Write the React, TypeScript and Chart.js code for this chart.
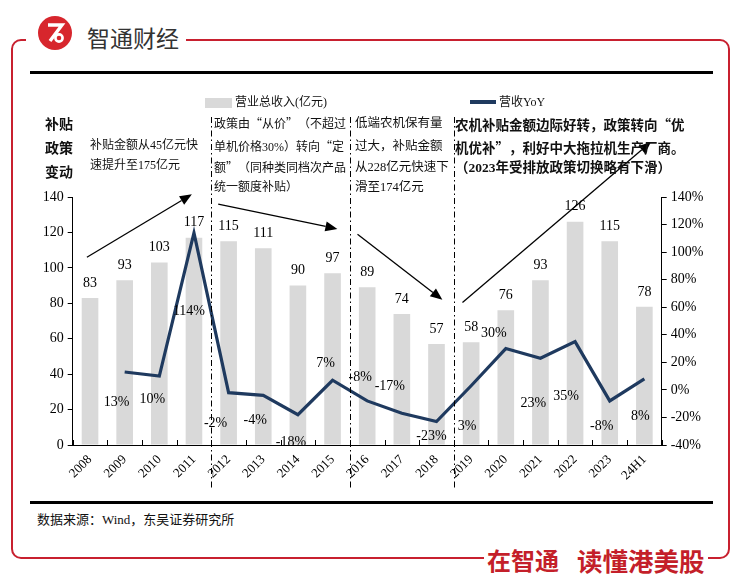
import React, { useEffect, useRef } from 'react';
import { Chart, registerables } from 'chart.js';

Chart.register(...registerables);

// ---------- data ----------
const categories = ['2008', '2009', '2010', '2011', '2012', '2013', '2014', '2015', '2016', '2017', '2018', '2019', '2020', '2021', '2022', '2023', '24H1'];
const revenue = [83, 93, 103, 117, 115, 111, 90, 97, 89, 74, 57, 58, 76, 93, 126, 115, 78];
const yoyGrowth = [null, 13, 10, 114, -2, -4, -18, 7, -8, -17, -23, 3, 30, 23, 35, -8, 8];
const leftTickMin = 0;
const leftTickMax = 140;
const rightTickMin = -40;
const rightTickMax = 140;
const tickStep = 20;

// ---------- annotation placement (styles / positions) ----------
const yoyLabelOffsets = [[0, 0], [-8, 30], [-7, 23], [-5, 79], [-13, 31], [-8, 25], [-7, 28], [-7, -17], [-7, -24], [-12, -27], [-5, 15], [-4, 41], [-12, -15], [-7, 45], [-9, 55], [-8, 25], [-4, 37]];
const phaseDividers = [3.5, 7.5, 10.5];
const trendArrows = [
  { from: [-0.09, 106], to: [2.94, 141.5] },
  { from: [3.7, 136], to: [7.14, 122] },
  { from: [7.72, 119], to: [10.17, 82] },
  { from: [10.75, 80.5], to: [16.19, 171] },
];

const SERIF = "'Liberation Serif', 'Times New Roman', serif";
const MIXED = "'Liberation Serif', 'Noto Sans CJK SC', serif";
const CJK = "'Noto Sans CJK SC', sans-serif";
const BAR_COLOR = '#d9d9d9';
const LINE_COLOR = '#1f3a5f';
const RED = '#c8202f';

const overlayPlugin = {
  id: 'overlay',
  afterDatasetsDraw(chart: any) {
    const ctx = chart.ctx;
    ctx.save();
    ctx.fillStyle = '#000';
    ctx.font = `14px ${SERIF}`;
    ctx.textAlign = 'center';
    ctx.textBaseline = 'middle';
    const barMeta = chart.getDatasetMeta(1);
    barMeta.data.forEach((el: any, i: number) => {
      ctx.fillText(String(revenue[i]), el.x, el.y - 15);
    });
    const lineMeta = chart.getDatasetMeta(0);
    lineMeta.data.forEach((el: any, i: number) => {
      const v = yoyGrowth[i];
      if (v === null || v === undefined) return;
      const [dx, dy] = yoyLabelOffsets[i];
      ctx.fillText(`${v}%`, el.x + dx, el.y + dy);
    });
    ctx.restore();
  },
  afterDraw(chart: any) {
    const ctx = chart.ctx;
    const xs = chart.scales.x;
    const ys = chart.scales.y;
    const area = chart.chartArea;
    ctx.save();
    ctx.strokeStyle = '#000';
    ctx.lineWidth = 1;
    for (let i = 0; i <= categories.length; i++) {
      const px = Math.round(xs.getPixelForValue(i - 0.5)) + 0.5;
      ctx.beginPath();
      ctx.moveTo(px, area.bottom);
      ctx.lineTo(px, area.bottom - 5);
      ctx.stroke();
    }
    ctx.setLineDash([6, 3, 1.5, 3]);
    phaseDividers.forEach((d) => {
      const px = Math.round(xs.getPixelForValue(d)) + 0.5;
      ctx.beginPath();
      ctx.moveTo(px, 117);
      ctx.lineTo(px, 488);
      ctx.stroke();
    });
    ctx.setLineDash([]);
    ctx.lineWidth = 1.3;
    ctx.fillStyle = '#000';
    trendArrows.forEach((a) => {
      const x1 = xs.getPixelForValue(a.from[0]);
      const y1 = ys.getPixelForValue(a.from[1]);
      const x2 = xs.getPixelForValue(a.to[0]);
      const y2 = ys.getPixelForValue(a.to[1]);
      const ang = Math.atan2(y2 - y1, x2 - x1);
      const hl = 12;
      const hw = 5;
      const bx = x2 - hl * Math.cos(ang);
      const by = y2 - hl * Math.sin(ang);
      ctx.beginPath();
      ctx.moveTo(x1, y1);
      ctx.lineTo(bx, by);
      ctx.stroke();
      ctx.beginPath();
      ctx.moveTo(x2, y2);
      ctx.lineTo(bx + hw * Math.sin(ang), by - hw * Math.cos(ang));
      ctx.lineTo(bx - hw * Math.sin(ang), by + hw * Math.cos(ang));
      ctx.closePath();
      ctx.fill();
    });
    ctx.restore();
  },
};

const abs = (left: number, top: number, extra: any = {}) => ({ position: 'absolute' as const, left, top, whiteSpace: 'nowrap' as const, ...extra });

function renderMixed(text: string) {
  return text.split(/([“”])/).map((part, i) =>
    part === '“' || part === '”' ? (
      <span key={i} style={{ fontFamily: CJK, display: 'inline-block', width: '1em', textAlign: part === '“' ? 'right' : 'left' }}>{part}</span>
    ) : (
      <React.Fragment key={i}>{part}</React.Fragment>
    )
  );
}

function Line({ left, center, size, bold, text }: { left: number; center: number; size: number; bold?: boolean; text: string }) {
  return (
    <div style={abs(left, center - size * 0.65, { fontSize: size, lineHeight: `${Math.round(size * 1.3)}px`, fontFamily: MIXED, fontWeight: bold ? 700 : 400, color: '#111' })}>
      {renderMixed(text)}
    </div>
  );
}

export default function App() {
  const ref = useRef<HTMLCanvasElement>(null);

  useEffect(() => {
    const chart = new Chart(ref.current as HTMLCanvasElement, {
      type: 'bar',
      data: {
        labels: categories,
        datasets: [
          {
            type: 'line',
            label: '营收YoY',
            data: yoyGrowth as any,
            yAxisID: 'y1',
            borderColor: LINE_COLOR,
            backgroundColor: LINE_COLOR,
            borderWidth: 3.2,
            pointRadius: 0,
            tension: 0,
            order: 0,
          } as any,
          {
            type: 'bar',
            label: '营业总收入(亿元)',
            data: revenue,
            yAxisID: 'y',
            backgroundColor: BAR_COLOR,
            barPercentage: 0.48,
            categoryPercentage: 1,
            order: 1,
          },
        ],
      },
      options: {
        responsive: false,
        animation: false,
        devicePixelRatio: 1,
        layout: { padding: { left: 20, right: 21.3, top: 197, bottom: 91 } },
        plugins: { legend: { display: false }, tooltip: { enabled: false } },
        scales: {
          x: {
            offset: true,
            grid: { display: false, drawTicks: false },
            border: { display: true, color: '#000', width: 1 },
            ticks: { minRotation: 45, maxRotation: 45, padding: 7, color: '#000', font: { family: SERIF, size: 13 } },
            afterFit: (s: any) => { s.height = 50; },
          },
          y: {
            position: 'left',
            min: leftTickMin,
            max: leftTickMax,
            grid: { drawOnChartArea: false, drawTicks: true, tickLength: 5, color: '#000' },
            border: { display: true, color: '#000', width: 1 },
            ticks: { stepSize: tickStep, padding: 4, color: '#000', font: { family: SERIF, size: 14 } },
            afterFit: (s: any) => { s.width = 52.7; },
          },
          y1: {
            position: 'right',
            min: rightTickMin,
            max: rightTickMax,
            grid: { drawOnChartArea: false, drawTicks: true, tickLength: 5, color: '#000' },
            border: { display: true, color: '#000', width: 1 },
            ticks: { stepSize: tickStep, padding: 4, color: '#000', font: { family: SERIF, size: 14 }, callback: (v: any) => `${v}%` },
            afterFit: (s: any) => { s.width = 60; },
          },
        },
      },
      plugins: [overlayPlugin],
    });
    return () => chart.destroy();
  }, []);

  return (
    <div style={{ position: 'absolute', left: 0, top: 0, width: 743, height: 586, background: '#fff', overflow: 'hidden' }}>
      <div style={abs(11, 39, { width: 719, height: 520, border: `2px solid ${RED}`, borderRadius: 10, boxSizing: 'border-box' })} />
      <div style={abs(26, 30, { width: 160, height: 16, background: '#fff' })} />
      <svg style={{ position: 'absolute', left: 38, top: 16 }} width={34} height={34} viewBox="0 0 34 34">
        <circle cx={17} cy={17} r={17} fill="#d7262d" />
        <path d="M10 9 H24 L12 25" stroke="#fff" strokeWidth={3.4} fill="none" strokeLinejoin="miter" />
        <circle cx={21} cy={22} r={3.6} stroke="#fff" strokeWidth={2.6} fill="none" />
      </svg>
      <div style={abs(87, 22, { fontSize: 23, lineHeight: '30px', fontFamily: CJK, color: '#333' })}>智通财经</div>
      <div style={abs(30, 71, { width: 683, height: 2.5, background: '#000' })} />
      <div style={abs(30, 501, { width: 683, height: 2.5, background: '#000' })} />
      <div style={abs(484, 548, { width: 224, height: 20, background: '#fff' })} />
      <div style={abs(487, 545, { fontSize: 24, lineHeight: '30px', fontWeight: 700, fontFamily: CJK, color: '#c41f2a' })}>在智通</div>
      <div style={abs(577, 545, { fontSize: 25.5, lineHeight: '30px', fontWeight: 700, fontFamily: CJK, color: '#c41f2a' })}>读懂港美股</div>
      <Line left={37} center={519} size={13} text="数据来源：Wind，东吴证券研究所" />

      <canvas ref={ref} width={743} height={586} style={{ position: 'absolute', left: 0, top: 0 }} />

      <div style={abs(205, 98, { width: 27, height: 10, background: BAR_COLOR })} />
      <Line left={235} center={102} size={12} text="营业总收入(亿元)" />
      <div style={abs(470, 100, { width: 26, height: 3.5, background: LINE_COLOR })} />
      <Line left={499} center={102} size={12} text="营收YoY" />

      <Line left={45} center={125} size={14} bold text="补贴" />
      <Line left={45} center={149} size={14} bold text="政策" />
      <Line left={45} center={173} size={14} bold text="变动" />

      <Line left={90} center={145} size={12} text="补贴金额从45亿元快" />
      <Line left={90} center={165} size={12} text="速提升至175亿元" />

      <Line left={214} center={123} size={12} text="政策由“从价”（不超过" />
      <Line left={214} center={146} size={12} text="单机价格30%）转向“定" />
      <Line left={214} center={167} size={12} text="额”（同种类同档次产品" />
      <Line left={214} center={187} size={12} text="统一额度补贴）" />

      <Line left={355} center={123} size={12.5} text="低端农机保有量" />
      <Line left={355} center={146} size={12.5} text="过大，补贴金额" />
      <Line left={355} center={167} size={12.5} text="从228亿元快速下" />
      <Line left={355} center={187} size={12.5} text="滑至174亿元" />

      <Line left={455} center={124} size={13.5} bold text="农机补贴金额边际好转，政策转向“优" />
      <Line left={455} center={147} size={13.5} bold text="机优补”，利好中大拖拉机生产厂商。" />
      <Line left={455} center={168} size={13.5} bold text="（2023年受排放政策切换略有下滑）" />
    </div>
  );
}
